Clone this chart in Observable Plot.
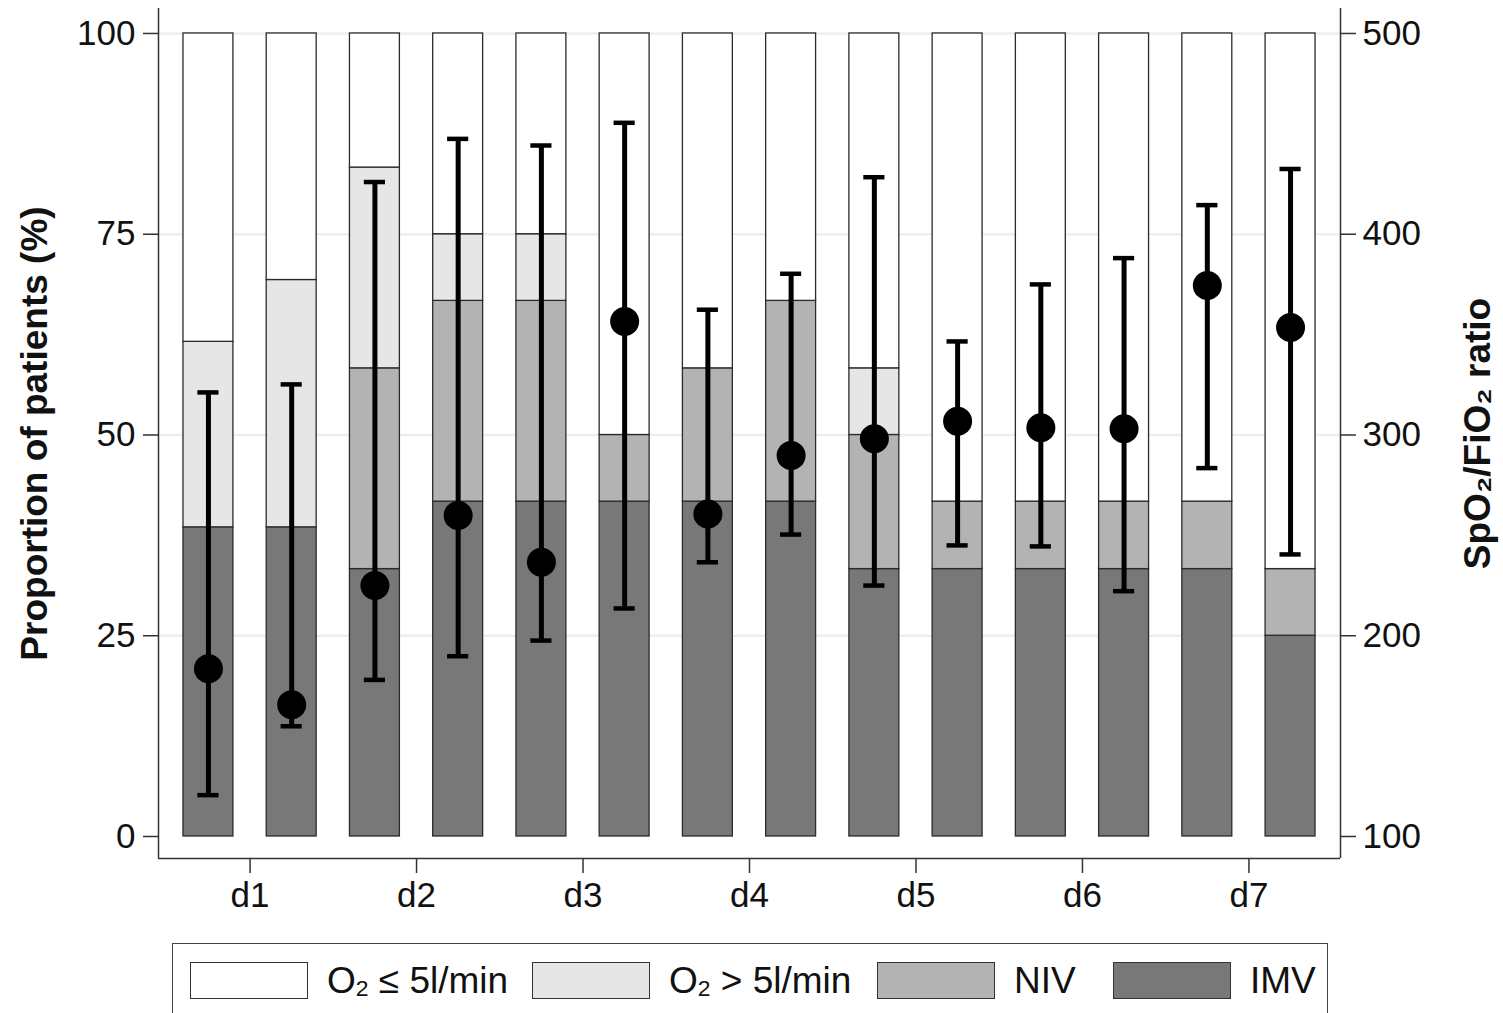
<!DOCTYPE html>
<html>
<head>
<meta charset="utf-8">
<script src="https://cdn.jsdelivr.net/npm/d3@7"></script>
<script src="https://cdn.jsdelivr.net/npm/@observablehq/plot@0.6"></script>
<style>
  body { margin: 0; background: #fff; font-family: "Liberation Sans", Arial, Helvetica, sans-serif; }
  #wrap { position: relative; width: 1503px; height: 1013px; overflow: hidden; background: #fff; }
  #legend { position: absolute; left: 172px; top: 943px; width: 1156px; height: 110px; border: 1.5px solid #444; box-sizing: border-box; }
  .item { position: absolute; top: 18px; display: flex; align-items: center; white-space: nowrap; }
  .sw { width: 118px; height: 37px; border: 1.5px solid #333; box-sizing: border-box; }
  .lab { margin-left: 19px; font-size: 37px; color: #111; line-height: 37px; }
  .lab sub { font-size: 0.62em; vertical-align: -0.12em; line-height: 0; }
</style>
</head>
<body>
<div id="wrap"><div id="chart"></div><div id="legend"></div></div>
<script>
// ---- data ----
const days = ["d1", "d2", "d3", "d4", "d5", "d6", "d7"];
// percentage of patients per bar (two bars per day), stacked bottom→top
const imv    = [38.5, 38.5, 33.3, 41.7, 41.7, 41.7, 41.7, 41.7, 33.3, 33.3, 33.3, 33.3, 33.3, 25.0];
const niv    = [0, 0, 25.0, 25.0, 25.0, 8.3, 16.6, 25.0, 16.7, 8.4, 8.4, 8.4, 8.4, 8.3];
const o2High = [23.1, 30.8, 25.0, 8.3, 8.3, 0, 0, 0, 8.3, 0, 0, 0, 0, 0];
const o2Low  = [38.4, 30.7, 16.7, 25.0, 25.0, 50.0, 41.7, 33.3, 41.7, 58.3, 58.3, 58.3, 58.3, 66.7];
// SpO2/FiO2 ratio: mean and interval per bar
const ratioMean = [183.5, 165.6, 225.0, 259.9, 236.6, 356.5, 260.7, 289.8, 298.1, 306.9, 303.6, 303.1, 374.5, 353.5];
const ratioLow  = [120.6, 154.9, 178.0, 189.8, 197.6, 213.6, 236.6, 250.4, 225.0, 245.0, 244.5, 222.2, 283.5, 240.5];
const ratioHigh = [321.2, 325.2, 426.0, 447.5, 444.2, 455.5, 362.4, 380.3, 428.4, 346.6, 375.0, 388.1, 414.5, 432.5];
const pctTicks   = [0, 25, 50, 75, 100];
const ratioTicks = [100, 200, 300, 400, 500];
const categories = ["IMV", "NIV", "O2>5", "O2<=5"];
const catColors  = ["#787878", "#b3b3b3", "#e6e6e6", "#ffffff"];
const legendOrder  = ["O2<=5", "O2>5", "NIV", "IMV"];
const legendLabels = ["O<sub>2</sub> ≤ 5l/min", "O<sub>2</sub> > 5l/min", "NIV", "IMV"];
const leftTitle  = "Proportion of patients (%)";
const rightTitle = "SpO₂/FiO₂ ratio";

// ---- derived tables ----
const color = Object.fromEntries(categories.map((c, i) => [c, catColors[i]]));
const series = [imv, niv, o2High, o2Low];
const rows = [];
imv.forEach((_, i) => {
  let y0 = 0;
  series.forEach((arr, k) => {
    const v = arr[i];
    if (v > 0) rows.push({bar: i + 1, cat: categories[k], y1: y0, y2: y0 + v});
    y0 += v;
  });
});
// right axis ratio 100..500 mapped onto 0..100 %
const toPct = r => (r - 100) / 4;
const toRatio = p => 100 + 4 * p;
const pts = ratioMean.map((m, i) => ({bar: i + 1, mean: toPct(m), lo: toPct(ratioLow[i]), hi: toPct(ratioHigh[i])}));
const dayTicks = days.map((d, i) => 2 * i + 1.5);

const xDomain = [0.4, 14.6];
const yDomain = [-2.74, 103.11];
const halfBar = 0.3, halfCap = 0.127;
const ink = "#111";

const chart = Plot.plot({
  width: 1503,
  height: 935,
  marginLeft: 158,
  marginRight: 163,
  marginTop: 8,
  marginBottom: 77,
  style: {fontFamily: '"Liberation Sans", Arial, Helvetica, sans-serif', fontSize: "35px", color: ink, background: "#fff"},
  x: {domain: xDomain},
  y: {domain: yDomain},
  marks: [
    Plot.ruleY(pctTicks.filter(d => d > 0), {stroke: "#e8f0f1", strokeWidth: 2.5}),
    Plot.rect(rows, {x1: d => d.bar - halfBar, x2: d => d.bar + halfBar, y1: "y1", y2: "y2",
      fill: d => color[d.cat], stroke: "#2b2b2b", strokeWidth: 1.3}),
    Plot.ruleX(xDomain, {y1: yDomain[0], y2: yDomain[1], stroke: "#333", strokeWidth: 1.5}),
    Plot.ruleY([yDomain[0]], {x1: xDomain[0], x2: xDomain[1], stroke: "#333", strokeWidth: 1.5}),
    Plot.ruleX(pts, {x: "bar", y1: "lo", y2: "hi", stroke: "#000", strokeWidth: 5}),
    Plot.ruleY(pts, {y: "lo", x1: d => d.bar - halfCap, x2: d => d.bar + halfCap, stroke: "#000", strokeWidth: 4.5}),
    Plot.ruleY(pts, {y: "hi", x1: d => d.bar - halfCap, x2: d => d.bar + halfCap, stroke: "#000", strokeWidth: 4.5}),
    Plot.dot(pts, {x: "bar", y: "mean", r: 14.5, fill: "#000", stroke: null}),
    Plot.axisY(pctTicks, {anchor: "left", label: null, tickSize: 15, tickPadding: 8, strokeWidth: 1.5, stroke: "#333"}),
    Plot.axisY(ratioTicks.map(toPct), {anchor: "right", label: null, tickSize: 15, tickPadding: 7, strokeWidth: 1.5, stroke: "#333",
      tickFormat: d => String(Math.round(toRatio(d)))}),
    Plot.axisX(dayTicks, {anchor: "bottom", label: null, tickSize: 15, tickPadding: 9, strokeWidth: 1.5, stroke: "#333",
      tickFormat: d => days[Math.round((d - 1.5) / 2)]}),
    Plot.text([leftTitle], {frameAnchor: "left", dx: -123, rotate: -90, fontSize: 37, fontWeight: "bold",
      textAnchor: "middle", lineAnchor: "middle", fill: ink}),
    Plot.text([rightTitle], {frameAnchor: "right", dx: 138, rotate: -90, fontSize: 37, fontWeight: "bold",
      textAnchor: "middle", lineAnchor: "middle", fill: ink})
  ]
});
document.getElementById("chart").appendChild(chart);

// ---- legend ----
const legendLeft = [17, 359, 704, 940];
const legend = document.getElementById("legend");
legendOrder.forEach((c, i) => {
  const item = document.createElement("div");
  item.className = "item";
  item.style.left = legendLeft[i] + "px";
  item.innerHTML = `<div class="sw" style="background:${color[c]}"></div><div class="lab">${legendLabels[i]}</div>`;
  legend.appendChild(item);
});
</script>
</body>
</html>
